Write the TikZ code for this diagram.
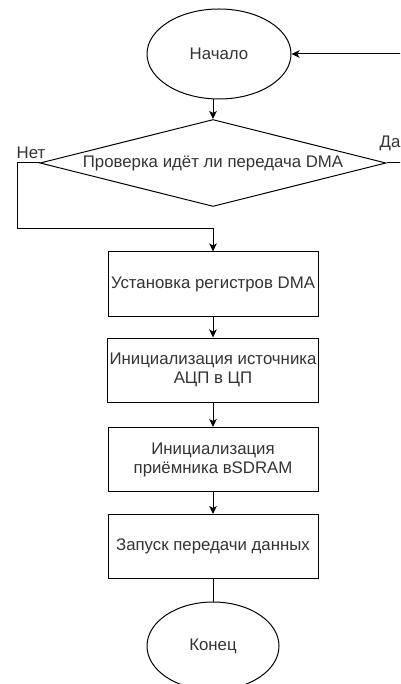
\documentclass[tikz,border=0pt]{standalone}
\usepackage{fontspec}
\setmainfont{Liberation Sans}
\usetikzlibrary{shapes.geometric,arrows.meta}
\begin{document}
\begin{tikzpicture}[x=1pt,y=-1pt,
  every node/.style={font=\fontsize{16.8}{19}\selectfont, text=black!80},
  line/.style={draw=black, line width=1pt},
  arr/.style={line, -{Stealth[length=8pt,width=7.5pt,inset=2pt]}},
  term/.style={ellipse, draw, line width=1pt, inner sep=0pt},
  proc/.style={rectangle, draw, line width=1pt, minimum width=210pt, minimum height=64pt, inner sep=2pt, align=center},
  dec/.style={diamond, draw, line width=1pt, minimum width=346pt, minimum height=87pt, inner sep=0pt, aspect=3.98}]
\clip (0,0) rectangle (400,684);
\useasboundingbox (0,0) rectangle (400,684);
\node[term, minimum width=144pt, minimum height=90pt] (start) at (219,54) {Начало};
\node[dec] (check) at (213,163) {\raisebox{-2pt}{Проверка идёт ли передача DMA}};
\node (no) at (31,153) {Нет};
\node (yes) at (390,143) {Да};
\node[proc] (b1) at (213,284) {Установка регистров DMA};
\node[proc] (b2) at (213,370) {Инициализация источника\\АЦП в ЦП};
\node[proc] (b3) at (213,459.5) {Инициализация\\приёмника вSDRAM};
\node[proc] (b4) at (213,546.5) {Запуск передачи данных};
\node[term, minimum width=132pt, minimum height=88pt] (end) at (213,646) {Конец};
\coordinate (noA) at (17,163);
\coordinate (noB) at (17,229);
\coordinate (yesA) at (410,163);
\coordinate (yesB) at (410,54);
\draw[arr] (check.north |- start.south) -- (check.north);
\draw[arr] (check.west) -- (noA) -- (noB) -| (b1.north);
\draw[arr] (check.east) -- (yesA) -- (yesB) -- (start.east);
\draw[arr] (b1.south) -- (b2.north);
\draw[arr] (b2.south) -- (b3.north);
\draw[arr] (b3.south) -- (b4.north);
\draw[line] (b4.south) -- (end.north);
\end{tikzpicture}
\end{document}
